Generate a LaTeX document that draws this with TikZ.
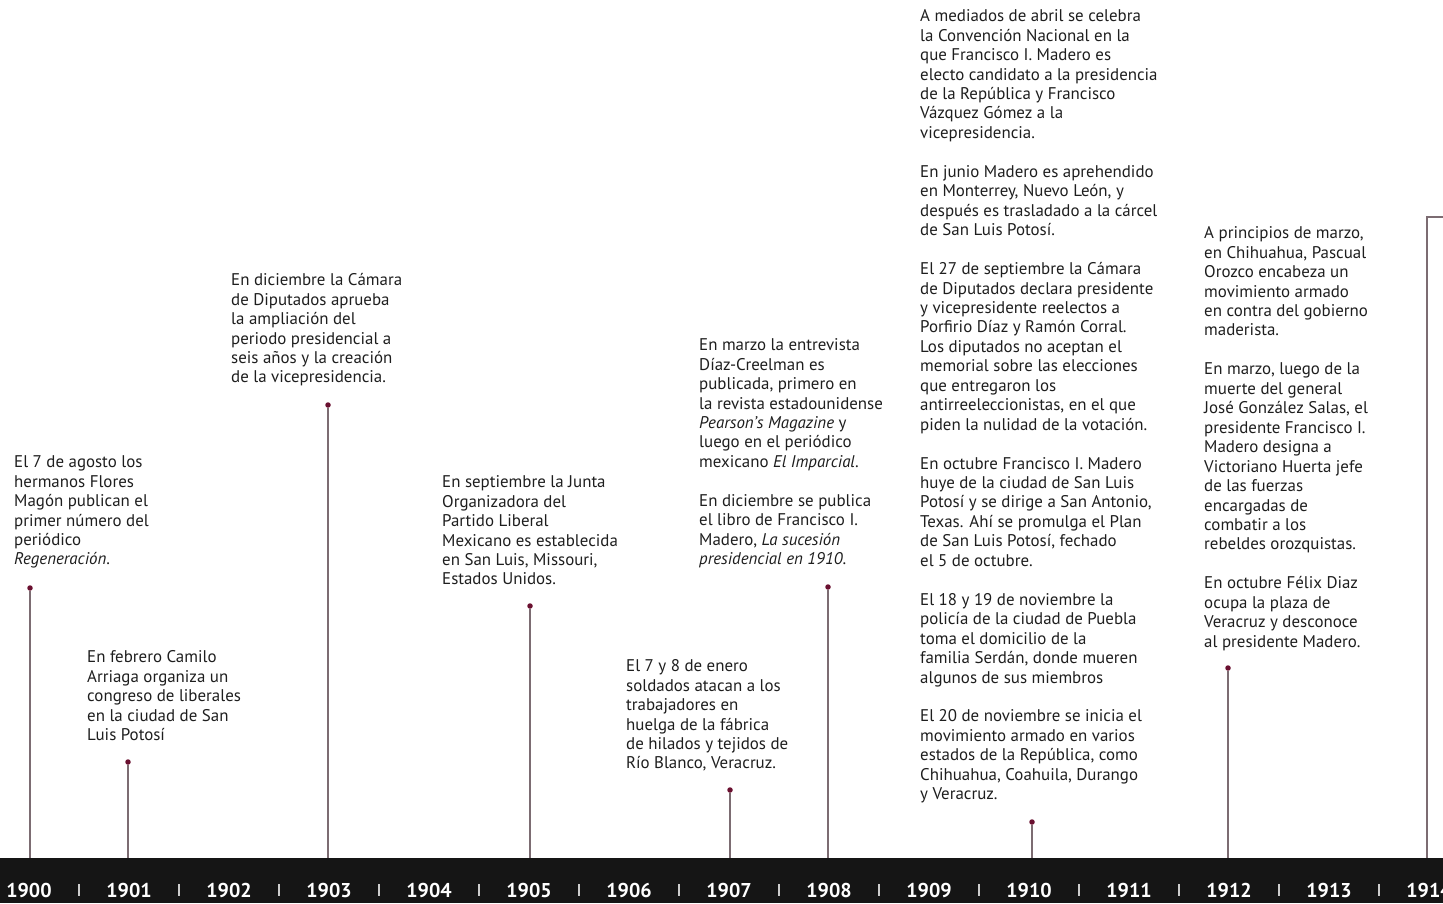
\documentclass[tikz,border=0pt]{standalone}
\usepackage{fontspec}
\setmainfont{PT Sans}
\usepackage{tikz}
\usetikzlibrary{positioning}

\definecolor{barblack}{HTML}{151515}
\definecolor{pinred}{HTML}{6A1030}
\definecolor{pingray}{HTML}{7C6C72}
\definecolor{inktext}{HTML}{1E1E1E}

\newcommand{\firstln}{\rule{0pt}{15.5pt}}

\begin{document}
\begin{tikzpicture}[x=1pt, y=-1pt,
  note/.style={anchor=north west, inner sep=0pt, align=left, text=inktext,
    font=\fontsize{16.9}{19.45}\selectfont},
  pinhead/.style={circle, fill=pinred, inner sep=0pt, minimum size=5.5pt},
  pinline/.style={draw=pingray, line width=1.2pt},
  yearlbl/.style={text=white, inner sep=0pt, font=\fontsize{20}{20}\selectfont\bfseries},
  yearsep/.style={draw=white!80!black, line width=1.3pt}]

  \useasboundingbox (0,0) rectangle (1443,903);
  \clip (0,0) rectangle (1443,903);

  % bar with the years
  \fill[barblack] (0,858) rectangle (1443,903);
  \foreach \yr [count=\i from 0] in {1900,...,1914}
    \node[yearlbl] (y\yr) at ({29+100*\i},890) {\yr};
  \foreach \i in {0,...,13}
    \draw[yearsep] ({79+100*\i},884) -- ({79+100*\i},896);

  % pins
  \foreach \yr/\px/\py in {1900/30/588, 1901/128/762, 1903/328/405, 1905/530/606,
                           1907/730/790, 1908/828/587, 1910/1032/822, 1912/1228/668} {
    \node[pinhead] (p\yr) at (\px,\py) {};
    \coordinate (b\yr) at (\px,858);
    \draw[pinline] (p\yr) -- (b\yr);
  }
  \coordinate (b1914) at (1427,858);
  \coordinate (e1914) at (1443,217);
  \draw[pinline] (b1914) |- (e1914);

  % notes
  \node[note] (n1900) at (14,452) {\firstln El 7 de agosto los\\
    hermanos Flores\\ Magón publican el\\ primer número del\\ periódico\\
    \textit{Regeneración}.};
  \node[note] (n1901) at (87,647) {\firstln En febrero Camilo\\
    Arriaga organiza un\\ congreso de liberales\\ en la ciudad de San\\ Luis Potosí};
  \node[note] (n1903) at (231,270) {\firstln En diciembre la Cámara\\
    de Diputados aprueba\\ la ampliación del\\ periodo presidencial a\\
    seis años y la creación\\ de la vicepresidencia.};
  \node[note] (n1905) at (442,472) {\firstln En septiembre la Junta\\
    Organizadora del\\ Partido Liberal\\ Mexicano es establecida\\
    en San Luis, Missouri,\\ Estados Unidos.};
  \node[note] (n1907) at (626,656) {\firstln El 7 y 8 de enero\\
    soldados atacan a los\\ trabajadores en\\ huelga de la fábrica\\
    de hilados y tejidos de\\ Río Blanco, Veracruz.};
  \node[note] (n1908) at (699,335) {\firstln En marzo la entrevista\\
    Díaz-Creelman es\\ publicada, primero en\\ la revista estadounidense\\
    \textit{Pearson's Magazine} y\\ luego en el periódico\\
    mexicano \textit{El Imparcial}.\\[19.45pt]
    En diciembre se publica\\ el libro de Francisco I.\\
    Madero, \textit{La sucesión}\\ \textit{presidencial en 1910}.};
  \node[note] (n1910) at (920,6) {\firstln A mediados de abril se celebra\\
    la Convención Nacional en la\\ que Francisco I. Madero es\\
    electo candidato a la presidencia\\ de la República y Francisco\\
    Vázquez Gómez a la\\ vicepresidencia.\\[19.45pt]
    En junio Madero es aprehendido\\ en Monterrey, Nuevo León, y\\
    después es trasladado a la cárcel\\ de San Luis Potosí.\\[19.45pt]
    El 27 de septiembre la Cámara\\ de Diputados declara presidente\\
    y vicepresidente reelectos a\\ Porfirio Díaz y Ramón Corral.\\
    Los diputados no aceptan el\\ memorial sobre las elecciones\\
    que entregaron los\\ antirreeleccionistas, en el que\\
    piden la nulidad de la votación.\\[19.45pt]
    En octubre Francisco I. Madero\\ huye de la ciudad de San Luis\\
    Potosí y se dirige a San Antonio,\\ Texas. Ahí se promulga el Plan\\
    de San Luis Potosí, fechado\\ el 5 de octubre.\\[19.45pt]
    El 18 y 19 de noviembre la\\ policía de la ciudad de Puebla\\
    toma el domicilio de la\\ familia Serdán, donde mueren\\
    algunos de sus miembros\\[19.45pt]
    El 20 de noviembre se inicia el\\ movimiento armado en varios\\
    estados de la República, como\\ Chihuahua, Coahuila, Durango\\
    y Veracruz.};
  \node[note] (n1912) at (1204,223) {\firstln A principios de marzo,\\
    en Chihuahua, Pascual\\ Orozco encabeza un\\ movimiento armado\\
    en contra del gobierno\\ maderista.\\[19.45pt]
    En marzo, luego de la\\ muerte del general\\ José González Salas, el\\
    presidente Francisco I.\\ Madero designa a\\ Victoriano Huerta jefe\\
    de las fuerzas\\ encargadas de\\ combatir a los\\ rebeldes orozquistas.\\[19.45pt]
    En octubre Félix Diaz\\ ocupa la plaza de\\ Veracruz y desconoce\\
    al presidente Madero.};
\end{tikzpicture}
\end{document}
